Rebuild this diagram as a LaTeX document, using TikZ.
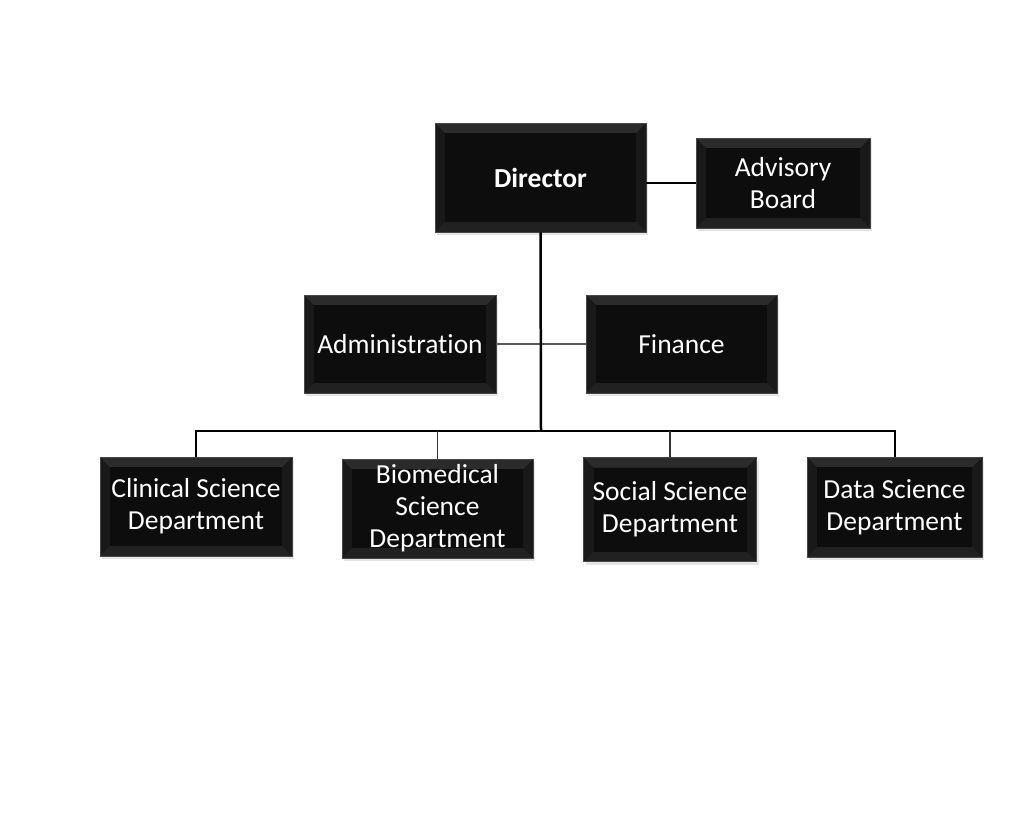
\documentclass[tikz,border=0pt]{standalone}
\usepackage{fontspec}
\usepackage{tikz}
\usetikzlibrary{positioning, calc, shadows}
\usepackage{xcolor}
\newfontfamily\orgfont[Ligatures=NoCommon]{Carlito}

\tikzset{
    orgbox/.style={rectangle, fill=black!90, draw=black!72, line width=0.7pt,
        text=white, align=center, inner sep=0pt,
        font=\orgfont\fontsize{27.5}{32}\selectfont,
        drop shadow={opacity=0.2, shadow xshift=2pt, shadow yshift=-3pt},
        path picture={
            \fill[black!83] (path picture bounding box.north west) -- (path picture bounding box.north east)
                -- ([shift={(-10pt,-10pt)}]path picture bounding box.north east)
                -- ([shift={(10pt,-10pt)}]path picture bounding box.north west) -- cycle;
            \fill[black!87] (path picture bounding box.south west) -- (path picture bounding box.south east)
                -- ([shift={(-10pt,10pt)}]path picture bounding box.south east)
                -- ([shift={(10pt,10pt)}]path picture bounding box.south west) -- cycle;
            \fill[black!95] ([shift={(10pt,-10pt)}]path picture bounding box.north west)
                rectangle ([shift={(-10pt,10pt)}]path picture bounding box.south east);
        }},
    trunk/.style={draw=black, line width=2.5pt},
    branch/.style={draw=black, line width=2pt},
    link/.style={draw=black!65, line width=1.5pt}
}

\begin{document}
\begin{tikzpicture}[x=1pt, y=-1pt]
    \useasboundingbox[fill=white] (0,0) rectangle (1014,819);

    % top level
    \node[orgbox, minimum width=211pt, minimum height=109pt, font=\orgfont\bfseries\fontsize{27.5}{32}\selectfont]
        (dir) at (540.5,177.5) {Director};
    \node[orgbox, minimum width=174pt, minimum height=90pt] (adv) at (783,183) {Advisory\\Board};

    % support units
    \node[orgbox, minimum width=192pt, minimum height=98pt] (adm) at (400,344) {Administration};
    \node[orgbox, minimum width=191pt, minimum height=98pt] (fin) at (681.5,344) {Finance};

    % departments
    \node[orgbox, minimum width=192pt, minimum height=99pt] (clin) at (196,506.5) {Clinical Science\\Department};
    \node[orgbox, minimum width=191pt, minimum height=99pt] (bio) at (437.5,508.5) {Biomedical\\Science\\Department};
    \node[orgbox, minimum width=173pt, minimum height=104pt] (soc) at (670,509.5) {Social Science\\Department};
    \node[orgbox, minimum width=175pt, minimum height=100pt] (data) at (894.5,507) {Data Science\\Department};

    \coordinate (bus) at (541,431);

    % connectors
    \draw[link, draw=black] (adv.west) -- (adv.west -| dir.east);
    \draw[link] (adm.east) -- (fin.west);
    \draw[trunk] (dir.south) -- (bus);
    \draw[branch] (clin.north) -- (clin.north |- bus) -- (data.north |- bus) -- (data.north);
    \draw[link, draw=black!80] (bio.north) -- (bio.north |- bus);
    \draw[link, draw=black!80] (soc.north) -- (soc.north |- bus);
\end{tikzpicture}
\end{document}
